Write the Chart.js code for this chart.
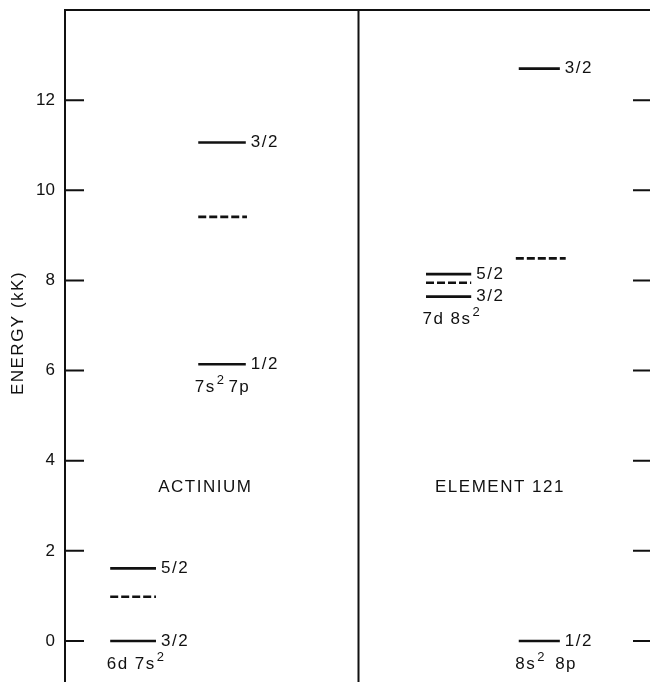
<!DOCTYPE html>
<html>
<head>
<meta charset="utf-8">
<script src="https://cdn.jsdelivr.net/npm/chart.js@4.4.1/dist/chart.umd.min.js"></script>
<style>
  html, body { margin: 0; padding: 0; background: #fff; overflow: hidden; }
  #wrap { width: 660px; height: 682px; }
</style>
</head>
<body>
<div id="wrap"><canvas id="chart"></canvas></div>
<script>
// Energy levels (kK), one list per configuration column
const configNames = ['6d 7s²', '7s²7p', '7d 8s²', '8s² 8p'];
const elementNames = ['ACTINIUM', 'ELEMENT 121'];
const acD = [0, 0.98, 1.61];
const acP = [6.14, 9.41, 11.06];
const e121D = [7.64, 7.95, 8.14];
const e121P = [0, 8.49, 12.70];
// J values ('' = unassigned level, drawn dashed)
const acDJ = ['3/2', '', '5/2'];
const acPJ = ['1/2', '', '3/2'];
const e121DJ = ['3/2', '', '5/2'];
const e121PJ = ['1/2', '', '3/2'];
const yTicks = [0, 2, 4, 6, 8, 10, 12];

const FONT = '"Liberation Sans", Arial, sans-serif';
const INK = '#111';

// column spans on the 0..100 x scale (layout only)
const columns = [
    { levels: acD, js: acDJ, x0: 7.7, x1: 15.5, dx0: 7.7, dx1: 15.5 },
    { levels: acP, js: acPJ, x0: 22.7, x1: 30.8, dx0: 22.7, dx1: 31.0 },
    { levels: e121D, js: e121DJ, x0: 61.5, x1: 69.2, dx0: 61.5, dx1: 69.2 },
    { levels: e121P, js: e121PJ, x0: 77.3, x1: 84.3, dx0: 76.8, dx1: 85.3 }
];
const namePos = [{ x: 23.9, y: 3.4 }, { x: 74.1, y: 3.4 }];

const datasets = [];
columns.forEach(col => {
    col.levels.forEach((e, i) => {
        const dashed = col.js[i] === '';
        datasets.push({
            data: [{ x: dashed ? col.dx0 : col.x0, y: e }, { x: dashed ? col.dx1 : col.x1, y: e }],
            borderColor: INK,
            borderWidth: 2.6,
            borderDash: dashed ? [8, 3] : [],
            pointRadius: 0,
            fill: false
        });
    });
});

// text with raised small "2" for the superscripts
function drawConfig(ctx, text, x, y) {
    const parts = text.split('²');
    let cx = x;
    parts.forEach((p, i) => {
        ctx.font = '17px ' + FONT;
        ctx.fillText(p, cx, y);
        cx += ctx.measureText(p).width;
        if (i < parts.length - 1) {
            ctx.font = '13px ' + FONT;
            ctx.fillText('2', cx + 1, y - 7);
            cx += ctx.measureText('2').width + 4;
        }
    });
    ctx.font = '17px ' + FONT;
}

const framePlugin = {
    id: 'frame',
    afterDatasetsDraw(chart) {
        const ctx = chart.ctx;
        const xs = chart.scales.x, ys = chart.scales.y;
        const { left, right, top, bottom } = chart.chartArea;
        ctx.save();
        ctx.strokeStyle = INK;
        ctx.lineWidth = 2;
        ctx.beginPath();
        // left axis, top border, divider
        ctx.moveTo(left, bottom); ctx.lineTo(left, top); ctx.lineTo(right, top);
        const mid = xs.getPixelForValue(50);
        ctx.moveTo(mid, top); ctx.lineTo(mid, bottom);
        // inward ticks on both sides
        yTicks.forEach(v => {
            const py = ys.getPixelForValue(v);
            ctx.moveTo(left, py); ctx.lineTo(left + 19, py);
            ctx.moveTo(right - 19, py); ctx.lineTo(right, py);
        });
        ctx.stroke();

        ctx.fillStyle = INK;
        ctx.font = '17px ' + FONT;
        ctx.letterSpacing = '1.5px';
        ctx.textAlign = 'left';
        ctx.textBaseline = 'middle';
        columns.forEach((col, c) => {
            // J labels at the right end of each level
            col.levels.forEach((e, i) => {
                if (col.js[i]) {
                    ctx.fillText(col.js[i], xs.getPixelForValue(col.x1) + 5, ys.getPixelForValue(e));
                }
            });
            // configuration under the lowest level
            const low = Math.min(...col.levels);
            drawConfig(ctx, configNames[c], xs.getPixelForValue(col.x0 - 0.6), ys.getPixelForValue(low) + 23);
        });
        // element names
        ctx.textAlign = 'center';
        elementNames.forEach((n, i) => {
            ctx.fillText(n, xs.getPixelForValue(namePos[i].x), ys.getPixelForValue(namePos[i].y));
        });
        // y title
        ctx.translate(18, 333);
        ctx.rotate(-Math.PI / 2);
        ctx.fillText('ENERGY (kK)', 0, 0);
        ctx.restore();
    }
};

new Chart(document.getElementById('chart'), {
    type: 'line',
    data: { datasets: datasets },
    options: {
        responsive: true,
        maintainAspectRatio: false,
        animation: false,
        layout: { padding: { left: 0, right: 8, top: 10, bottom: 0 } },
        plugins: { legend: { display: false }, tooltip: { enabled: false } },
        scales: {
            x: { type: 'linear', min: 0, max: 100, display: false },
            y: {
                type: 'linear',
                min: -0.91,
                max: 14.0,
                afterBuildTicks: scale => { scale.ticks = yTicks.map(v => ({ value: v })); },
                afterFit: scale => { scale.width = 65; scale.paddingTop = 0; scale.paddingBottom = 0; },
                grid: { display: false, drawTicks: false },
                border: { display: false },
                ticks: { color: INK, padding: 10, font: { family: FONT, size: 17 } }
            }
        }
    },
    plugins: [framePlugin]
});
</script>
</body>
</html>
